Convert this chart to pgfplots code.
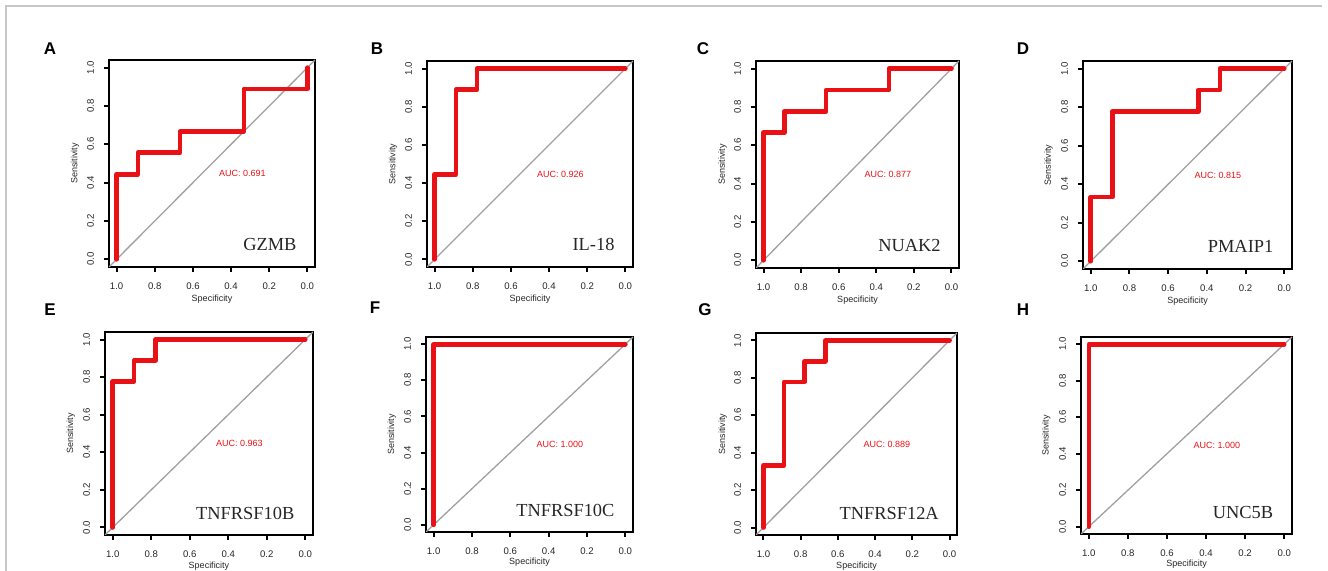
\documentclass[border=0pt]{standalone}
\usepackage{fontspec}
\setmainfont{Liberation Sans}
\newfontfamily\genefont{Liberation Serif}
\usepackage{pgfplots}
\pgfplotsset{compat=1.18}

\definecolor{rocred}{RGB}{232,18,22}
\definecolor{diag}{RGB}{160,160,160}

\newcommand{\ticfont}{\fontsize{4.8}{5}\selectfont}
\newcommand{\labfont}{\fontsize{4.5}{5}\selectfont}
\newcommand{\aucfont}{\fontsize{4.5}{5}\selectfont}

\pgfplotsset{
  rocaxis/.style={
    scale only axis,
    anchor=south west,
    xmin=-0.04, xmax=1.04, ymin=-0.04, ymax=1.04,
    x dir=reverse,
    xtick={0,0.2,0.4,0.6,0.8,1},
    ytick={0,0.2,0.4,0.6,0.8,1},
    /pgf/number format/.cd, fixed, fixed zerofill, precision=1, assume math mode=true,
    /pgfplots/.cd,
    tick label style={font=\ticfont, text=black!85},
    yticklabel style={rotate=90, anchor=south},
    xticklabel shift=2pt,
    yticklabel shift=1.5pt,
    axis line style={line width=1pt},
    every tick/.style={black, line width=1pt},
    major tick length=2.5pt,
    tick align=outside,
    xtick pos=bottom, ytick pos=left,
    xlabel={Specificity}, ylabel={Sensitivity},
    label style={font=\labfont, text=black!85},
    xlabel style={at={(axis description cs:0.5,-0.155)}, anchor=center},
    ylabel style={at={(axis description cs:-0.165,0.5)}, anchor=center},
  },
  diagline/.style={diag, line width=0.65pt},
  rocline/.style={rocred, line width=2.3pt, line join=round, line cap=round},
}

\begin{document}
\begin{tikzpicture}
\useasboundingbox (0,0) rectangle (664pt,285.5pt);
\clip (0,0) rectangle (664pt,285.5pt);
\draw[black!22, line width=0.6pt] (3pt,0) -- (3pt,282.5pt) -- (661pt,282.5pt);

% panel letters
\foreach \l/\x/\y in {A/25/261, B/188.5/261, C/351.5/261, D/511.5/261,
                      E/25/130.5, F/187.5/131.5, G/352.5/130.5, H/511.5/130.5}
  \node[font=\fontsize{8.5}{9}\selectfont\bfseries] at (\x pt,\y pt) {\l};

% A
\begin{axis}[rocaxis, at={(54.5pt,152pt)}, width=103pt, height=103.5pt]
\addplot[diagline] coordinates {(1.04,-0.04) (-0.04,1.04)};
\addplot[rocline] coordinates {(1,0) (1,0.444) (0.889,0.444) (0.889,0.556) (0.667,0.556) (0.667,0.667) (0.333,0.667) (0.333,0.889) (0,0.889) (0,1)};
\node[anchor=north west, font=\aucfont, text=rocred] at (axis cs:0.5,0.5) {AUC: 0.691};
\node[anchor=base east, font=\genefont\fontsize{9.2}{10}\selectfont, text=black!85] at (axis cs:0.02,0.045) {GZMB};
\end{axis}

% B
\begin{axis}[rocaxis, at={(213.5pt,152pt)}, width=103pt, height=103pt]
\addplot[diagline] coordinates {(1.04,-0.04) (-0.04,1.04)};
\addplot[rocline] coordinates {(1,0) (1,0.444) (0.889,0.444) (0.889,0.889) (0.778,0.889) (0.778,1) (0,1)};
\node[anchor=north west, font=\aucfont, text=rocred] at (axis cs:0.5,0.5) {AUC: 0.926};
\node[anchor=base east, font=\genefont\fontsize{9.2}{10}\selectfont, text=black!85] at (axis cs:0.02,0.045) {IL-18};
\end{axis}

% C
\begin{axis}[rocaxis, at={(378pt,151.5pt)}, width=101.5pt, height=103.5pt]
\addplot[diagline] coordinates {(1.04,-0.04) (-0.04,1.04)};
\addplot[rocline] coordinates {(1,0) (1,0.667) (0.889,0.667) (0.889,0.778) (0.667,0.778) (0.667,0.889) (0.333,0.889) (0.333,1) (0,1)};
\node[anchor=north west, font=\aucfont, text=rocred] at (axis cs:0.5,0.5) {AUC: 0.877};
\node[anchor=base east, font=\genefont\fontsize{9.2}{10}\selectfont, text=black!85] at (axis cs:0.02,0.045) {NUAK2};
\end{axis}

% D
\begin{axis}[rocaxis, at={(541.5pt,151pt)}, width=104.5pt, height=104pt]
\addplot[diagline] coordinates {(1.04,-0.04) (-0.04,1.04)};
\addplot[rocline] coordinates {(1,0) (1,0.333) (0.889,0.333) (0.889,0.778) (0.444,0.778) (0.444,0.889) (0.333,0.889) (0.333,1) (0,1)};
\node[anchor=north west, font=\aucfont, text=rocred] at (axis cs:0.5,0.5) {AUC: 0.815};
\node[anchor=base east, font=\genefont\fontsize{9.2}{10}\selectfont, text=black!85] at (axis cs:0.02,0.045) {PMAIP1};
\end{axis}

% E
\begin{axis}[rocaxis, at={(52.5pt,18pt)}, width=104pt, height=101.5pt]
\addplot[diagline] coordinates {(1.04,-0.04) (-0.04,1.04)};
\addplot[rocline] coordinates {(1,0) (1,0.778) (0.889,0.778) (0.889,0.889) (0.778,0.889) (0.778,1) (0,1)};
\node[anchor=north west, font=\aucfont, text=rocred] at (axis cs:0.5,0.5) {AUC: 0.963};
\node[anchor=base east, font=\genefont\fontsize{9.2}{10}\selectfont, text=black!85] at (axis cs:0.02,0.045) {TNFRSF10B};
\end{axis}

% F
\begin{axis}[rocaxis, at={(213pt,19.5pt)}, width=103.5pt, height=97.5pt]
\addplot[diagline] coordinates {(1.04,-0.04) (-0.04,1.04)};
\addplot[rocline] coordinates {(1,0) (1,1) (0,1)};
\node[anchor=north west, font=\aucfont, text=rocred] at (axis cs:0.5,0.5) {AUC: 1.000};
\node[anchor=base east, font=\genefont\fontsize{9.2}{10}\selectfont, text=black!85] at (axis cs:0.02,0.045) {TNFRSF10C};
\end{axis}

% G
\begin{axis}[rocaxis, at={(378pt,18pt)}, width=100.5pt, height=101pt]
\addplot[diagline] coordinates {(1.04,-0.04) (-0.04,1.04)};
\addplot[rocline] coordinates {(1,0) (1,0.333) (0.889,0.333) (0.889,0.778) (0.778,0.778) (0.778,0.889) (0.667,0.889) (0.667,1) (0,1)};
\node[anchor=north west, font=\aucfont, text=rocred] at (axis cs:0.5,0.5) {AUC: 0.889};
\node[anchor=base east, font=\genefont\fontsize{9.2}{10}\selectfont, text=black!85] at (axis cs:0.02,0.045) {TNFRSF12A};
\end{axis}

% H
\begin{axis}[rocaxis, at={(540.5pt,18.5pt)}, width=105.5pt, height=98.5pt]
\addplot[diagline] coordinates {(1.04,-0.04) (-0.04,1.04)};
\addplot[rocline] coordinates {(1,0) (1,1) (0,1)};
\node[anchor=north west, font=\aucfont, text=rocred] at (axis cs:0.5,0.5) {AUC: 1.000};
\node[anchor=base east, font=\genefont\fontsize{9.2}{10}\selectfont, text=black!85] at (axis cs:0.02,0.045) {UNC5B};
\end{axis}
\end{tikzpicture}
\end{document}
